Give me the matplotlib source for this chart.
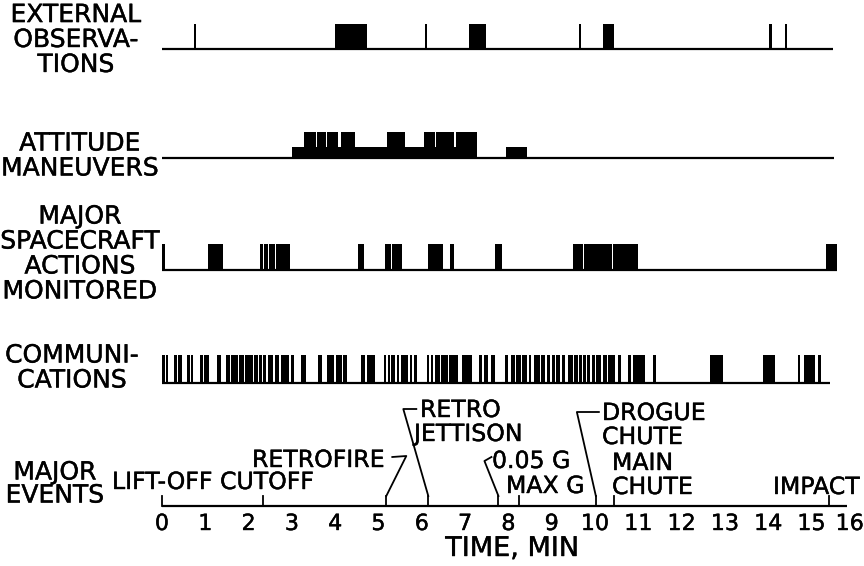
import matplotlib
matplotlib.use('Agg')
import matplotlib.pyplot as plt
import matplotlib.patheffects as pe

PX0 = 162.0      # pixel of t = 0
PXM = 43.3       # pixels per minute

# --- data (start, end) in minutes ---
external_obs = [(0.74, 0.79), (4.00, 4.73), (6.07, 6.13), (7.09, 7.48),
                (9.62, 9.68), (10.18, 10.44), (14.03, 14.08), (14.38, 14.43)]

attitude_low = [(3.00, 7.27), (7.94, 8.43)]
attitude_high = [(3.28, 3.56), (3.57, 3.79), (3.81, 4.06), (4.13, 4.46),
                 (5.20, 5.61), (6.05, 6.30), (6.32, 6.74), (6.79, 7.27)]

spacecraft = [(0.00, 0.06), (1.06, 1.41), (2.26, 2.34), (2.35, 2.45),
              (2.46, 2.62), (2.63, 2.96), (4.53, 4.67), (5.15, 5.30),
              (5.31, 5.42), (5.43, 5.54), (6.14, 6.49), (6.65, 6.74),
              (7.69, 7.85), (9.49, 9.72), (9.75, 10.40), (10.41, 10.60),
              (10.61, 10.99), (15.33, 15.59)]

comms = [(0.00, 0.06), (0.09, 0.15), (0.28, 0.35), (0.38, 0.46), (0.58, 0.64),
         (0.67, 0.72), (0.88, 0.94), (0.97, 1.08), (1.26, 1.37), (1.48, 1.58),
         (1.60, 1.76), (1.77, 1.89), (1.92, 2.00), (2.02, 2.10), (2.12, 2.22),
         (2.25, 2.31), (2.33, 2.41), (2.45, 2.56), (2.60, 2.71), (2.74, 2.94),
         (2.97, 3.06), (3.22, 3.33), (3.60, 3.69), (3.82, 3.98), (4.01, 4.15),
         (4.19, 4.28), (4.59, 4.69), (4.73, 4.92), (5.13, 5.18), (5.22, 5.27),
         (5.30, 5.38), (5.42, 5.47), (5.52, 5.69), (5.72, 5.78), (5.83, 5.88),
         (6.11, 6.16), (6.21, 6.26), (6.30, 6.42), (6.45, 6.60), (6.62, 6.84),
         (6.92, 7.15), (7.31, 7.38), (7.44, 7.53), (7.60, 7.70), (7.92, 8.00),
         (8.05, 8.15), (8.17, 8.30), (8.32, 8.42), (8.48, 8.53), (8.59, 8.73),
         (8.76, 8.84), (8.88, 8.96), (9.00, 9.07), (9.11, 9.19), (9.23, 9.31),
         (9.38, 9.50), (9.52, 9.60), (9.62, 9.70), (9.72, 9.80), (9.82, 9.88),
         (9.92, 10.00), (10.03, 10.15), (10.19, 10.27), (10.30, 10.46),
         (10.54, 10.61), (10.76, 10.84), (10.88, 11.15), (11.35, 11.40),
         (12.66, 12.96), (13.88, 14.16), (14.69, 14.73), (14.83, 15.08),
         (15.15, 15.22)]

row_labels = ['EXTERNAL\nOBSERVA-\nTIONS', 'ATTITUDE\nMANEUVERS',
              'MAJOR\nSPACECRAFT\nACTIONS\nMONITORED', 'COMMUNI-\nCATIONS']
row_ends = [15.5, 15.53, 15.6, 15.43]

event_names = ['LIFT-OFF', 'CUTOFF', 'RETROFIRE', 'RETRO JETTISON', '0.05 G',
               'MAX G', 'DROGUE CHUTE', 'MAIN CHUTE', 'IMPACT']
event_times = [0.0, 2.33, 5.18, 6.15, 7.77, 8.25, 10.02, 10.45, 15.4]
tick_minutes = list(range(0, 17))

FONT = 'DejaVu Sans'
FS = 18
FS_EV = 17
INK = [pe.withStroke(linewidth=0.3, foreground='black')]

fig = plt.figure(figsize=(8.64, 5.66), dpi=100)
ax = fig.add_axes([0, 0, 1, 1])
ax.set_xlim(-PX0 / PXM, (864 - PX0) / PXM)
ax.set_ylim(566, 0)
ax.axis('off')


def px(dx):
    return dx / PXM


def draw_bars(spans, base, h):
    x = [s for s, e in spans]
    w = [e - s for s, e in spans]
    ax.bar(x, [-h] * len(x), width=w, bottom=base, align='edge',
           color='black', linewidth=0)


# rows: baseline y (pixels), label centre (x px, y px)
bases = [49, 158, 270, 383]
label_pos = [(76, 40), (80, 156), (80, 254), (72, 368)]

for lab, base, end, (lx, ly) in zip(row_labels, bases, row_ends, label_pos):
    ax.plot([0, end], [base, base], color='black', lw=1.6, solid_capstyle='butt')
    ax.text(px(lx - PX0), ly, lab, ha='center', va='center',
            multialignment='center', fontsize=FS, family=FONT, linespacing=1.05,
            path_effects=INK)

draw_bars(external_obs, bases[0], 25)
draw_bars(attitude_low, bases[1], 11)
draw_bars(attitude_high, bases[1], 26)
draw_bars(spacecraft, bases[2], 26)
draw_bars(comms, bases[3], 28)

# time axis with major events
AX_Y = 506
ax.plot([0, 15.83], [AX_Y, AX_Y], color='black', lw=1.6, solid_capstyle='butt')
for t in event_times:
    ax.plot([t, t], [AX_Y, AX_Y - 10], color='black', lw=1.3)

for m in tick_minutes:
    if m == tick_minutes[-1]:
        ax.text(m + px(9), 524, str(m), ha='right', va='center',
                fontsize=16, family=FONT, path_effects=INK)
    else:
        ax.text(m, 524, str(m), ha='center', va='center',
                fontsize=16, family=FONT, path_effects=INK)
ax.text(px(512 - PX0), 549, 'TIME, MIN', ha='center', va='center',
        fontsize=19.5, family=FONT, path_effects=INK)

ax.text(px(55 - PX0), 484, 'MAJOR\nEVENTS', ha='center', va='center',
        multialignment='center', fontsize=FS, family=FONT, linespacing=0.95,
        path_effects=INK)

# event labels: (text, left x px, centre y px)
lbl = [('LIFT-OFF', 112, 482), ('CUTOFF', 220, 482), ('RETROFIRE', 252, 460),
       ('RETRO', 420, 410), ('JETTISON', 414, 434), ('0.05 G', 492, 461),
       ('MAX G', 506, 486), ('DROGUE', 602, 413), ('CHUTE', 602, 437),
       ('MAIN', 612, 463), ('CHUTE', 612, 487), ('IMPACT', 773, 487)]
for txt, x, y in lbl:
    ax.text(px(x - PX0), y, txt, ha='left', va='center', fontsize=FS_EV,
            family=FONT, path_effects=INK)

# leader lines (offsets in px from each event's tick top)
leaders = {2: [(6, -39), (20, -40), (0, 0)],
           3: [(-12, -87), (-25, -87), (0, 0)],
           4: [(-7, -39), (-14, -35), (0, 0)],
           6: [(3, -84), (-19, -84), (0, 0)]}
for i, pts in leaders.items():
    t = event_times[i]
    xs = [t + px(dx) for dx, dy in pts]
    ys = [AX_Y - 10 + dy for dx, dy in pts]
    ax.plot(xs, ys, color='black', lw=1.3)

fig.savefig('out.png', dpi=100, facecolor='white')
